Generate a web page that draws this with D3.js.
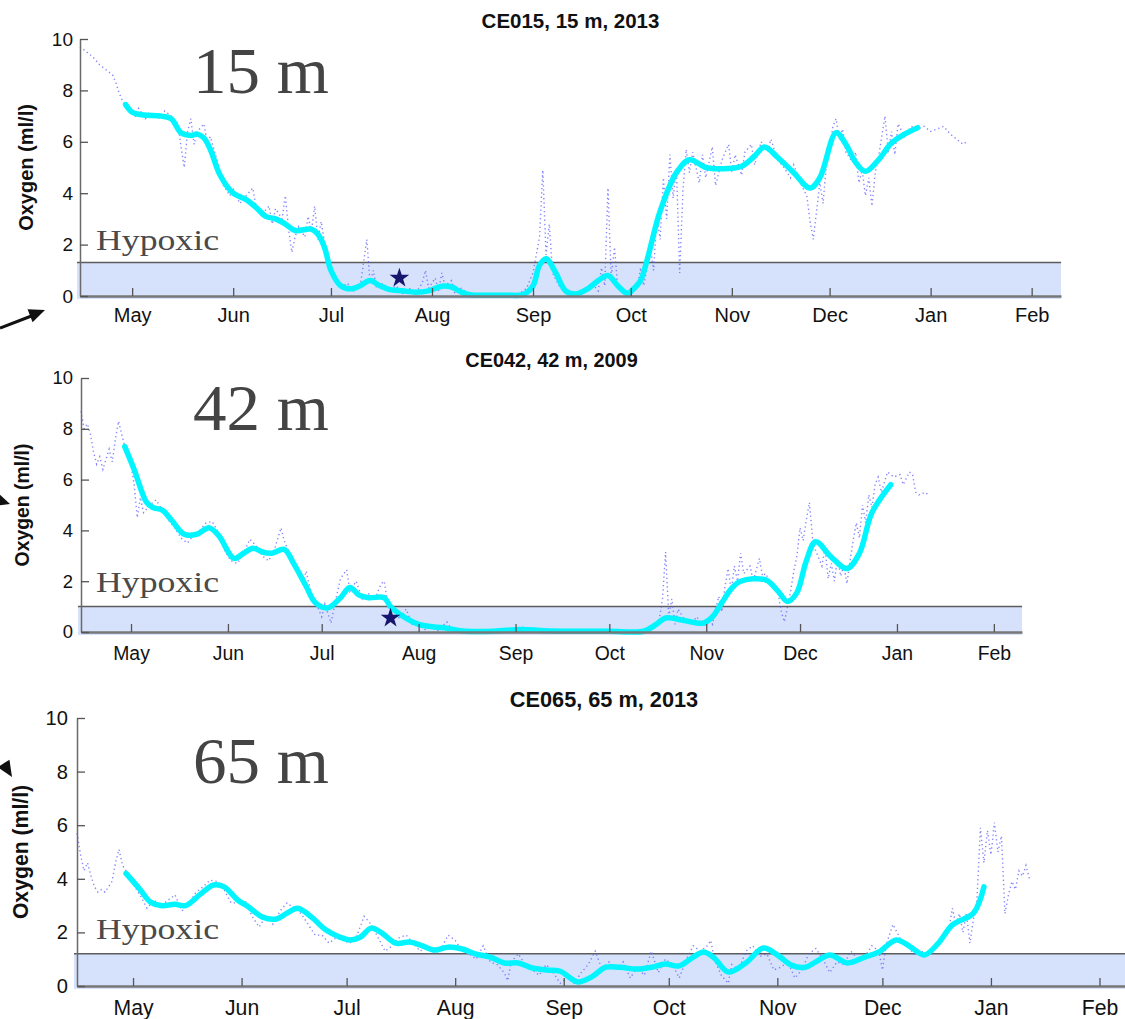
<!DOCTYPE html>
<html>
<head>
<meta charset="utf-8">
<script src="https://cdn.jsdelivr.net/npm/d3@7"></script>
<style>
  html, body { margin: 0; padding: 0; background: #fff; }
  svg { display: block; }
</style>
</head>
<body>
<svg id="fig" width="1125" height="1019"></svg>
<script>
// ---- Mooring oxygen records (ml/l); dates as "MM-DD", Jan/Feb fall in the following year ----

const panelTitles = ["CE015, 15 m, 2013", "CE042, 42 m, 2009", "CE065, 65 m, 2013"];
const depthLabels = ["15 m", "42 m", "65 m"];
const deploymentYears = [2013, 2009, 2013];
const hypoxicThresholds = [1.3, 1.0, 1.2];
const monthTicks = ["May", "Jun", "Jul", "Aug", "Sep", "Oct", "Nov", "Dec", "Jan", "Feb"];
const oxygenTicks = [0, 2, 4, 6, 8, 10];

// CE015 (15 m, 2013)
const ce015Raw = [
  ["04-15",9.7],["04-17",9.5],["04-19",9.3],["04-21",9.0],["04-23",8.8],["04-25",8.6],["04-26",8.3],["04-27",7.9],
  ["04-28",7.6],["04-29",7.4],["04-30",7.2],["05-02",7.0],["05-03",7.3],["05-05",6.9],["05-07",7.1],["05-09",6.9],
  ["05-11",7.2],["05-13",7.0],["05-15",6.7],["05-16",5.8],["05-17",5.0],["05-18",6.4],["05-19",6.9],["05-20",5.9],
  ["05-21",6.4],["05-23",6.7],["05-24",6.0],["05-25",6.2],["05-27",5.3],["05-29",4.3],["05-31",3.9],["06-01",4.2],
  ["06-03",3.6],["06-05",3.9],["06-07",4.2],["06-08",3.5],["06-10",3.2],["06-12",3.5],["06-13",2.8],["06-14",3.4],
  ["06-16",3.0],["06-17",3.9],["06-18",2.6],["06-19",1.7],["06-20",2.3],["06-21",2.7],["06-23",2.3],["06-24",3.1],
  ["06-25",2.5],["06-26",3.5],["06-27",2.2],["06-28",2.9],["06-29",2.1],["07-01",1.1],["07-02",0.6],["07-04",0.3],
  ["07-06",0.5],["07-08",0.2],["07-10",0.4],["07-11",1.3],["07-12",2.2],["07-13",0.5],["07-14",1.0],["07-15",0.3],
  ["07-17",0.5],["07-19",0.2],["07-21",0.4],["07-23",0.1],["07-25",0.3],["07-27",0.1],["07-29",0.5],["07-30",1.0],
  ["07-31",0.3],["08-02",0.7],["08-03",0.2],["08-04",0.9],["08-05",0.4],["08-07",0.6],["08-08",0.1],["08-10",0.3],
  ["08-13",0.0],["08-16",0.05],["08-20",0.0],["08-24",0.05],["08-28",0.1],["08-30",0.3],["09-01",0.9],["09-03",2.3],
  ["09-04",4.9],["09-05",1.6],["09-06",2.8],["09-07",0.9],["09-09",0.4],["09-11",0.1],["09-14",0.0],["09-17",0.2],
  ["09-19",0.5],["09-21",0.2],["09-22",1.1],["09-23",0.4],["09-24",4.2],["09-25",0.7],["09-26",1.9],["09-27",0.3],
  ["09-29",0.1],["10-01",0.1],["10-03",0.3],["10-04",1.1],["10-05",0.4],["10-07",1.9],["10-08",1.0],["10-09",3.1],
  ["10-10",2.2],["10-11",4.6],["10-12",3.0],["10-13",5.5],["10-14",3.8],["10-15",5.0],["10-16",0.9],["10-17",4.1],
  ["10-18",5.7],["10-19",4.8],["10-20",5.6],["10-22",4.4],["10-23",5.5],["10-24",4.6],["10-26",5.8],["10-27",4.3],
  ["10-29",5.3],["10-31",5.9],["11-01",4.8],["11-02",5.5],["11-04",4.7],["11-05",5.6],["11-07",5.9],["11-08",5.1],
  ["11-10",6.0],["11-12",5.6],["11-13",6.1],["11-15",5.3],["11-17",5.0],["11-19",4.6],["11-20",5.1],["11-22",4.4],
  ["11-24",3.9],["11-25",2.9],["11-26",2.2],["11-27",3.3],["11-28",4.4],["11-29",3.6],["11-30",5.1],["12-01",5.6],
  ["12-02",6.6],["12-03",6.9],["12-04",6.1],["12-05",6.5],["12-06",5.6],["12-08",5.2],["12-09",5.6],["12-10",4.4],
  ["12-11",4.9],["12-12",3.9],["12-13",4.6],["12-14",3.5],["12-15",4.8],["12-16",5.4],["12-17",6.2],["12-18",7.0],
  ["12-19",5.6],["12-20",6.4],["12-21",5.5],["12-22",6.7],["12-24",6.2],["12-26",6.6],["12-28",6.5],["12-30",6.6],
  ["01-01",6.4],["01-03",6.5],["01-05",6.6],["01-07",6.3],["01-09",6.1],["01-11",5.9],["01-12",6.0]
];
const ce015Smooth = [
  ["04-29",7.45],["05-01",7.15],["05-04",7.05],["05-10",7.0],["05-13",6.9],["05-16",6.35],["05-19",6.25],["05-21",6.3],
  ["05-23",6.15],["05-25",5.7],["05-28",4.7],["06-01",4.0],["06-05",3.75],["06-08",3.45],["06-11",3.1],["06-14",3.0],
  ["06-17",2.8],["06-20",2.55],["06-25",2.6],["06-27",2.4],["06-29",1.9],["07-01",1.0],["07-04",0.4],["07-07",0.28],
  ["07-10",0.4],["07-13",0.6],["07-16",0.4],["07-19",0.25],["07-23",0.2],["07-27",0.15],["07-31",0.2],["08-04",0.38],
  ["08-07",0.35],["08-10",0.15],["08-13",0.04],["08-18",0.03],["08-24",0.03],["08-29",0.06],["09-01",0.4],["09-03",1.2],
  ["09-05",1.45],["09-08",0.9],["09-11",0.2],["09-14",0.08],["09-18",0.3],["09-21",0.6],["09-24",0.8],["09-27",0.4],
  ["09-30",0.1],["10-02",0.3],["10-04",0.6],["10-06",1.4],["10-10",3.3],["10-15",4.8],["10-19",5.3],["10-24",5.0],
  ["10-29",4.95],["11-04",5.05],["11-08",5.45],["11-11",5.8],["11-15",5.4],["11-20",4.8],["11-25",4.2],["11-28",4.6],
  ["12-03",6.35],["12-06",5.9],["12-09",5.2],["12-12",4.85],["12-16",5.3],["12-20",5.95],["12-24",6.3],["12-28",6.55]
];
const ce015Star = ["07-22", 0.7];

// CE042 (42 m, 2009)
const ce042Raw = [
  ["04-15",8.7],["04-16",8.0],["04-17",8.2],["04-18",7.8],["04-19",7.1],["04-20",6.6],["04-21",6.9],["04-22",6.4],
  ["04-23",6.8],["04-24",7.2],["04-25",6.7],["04-26",7.6],["04-27",8.3],["04-28",7.8],["04-29",7.3],["05-01",6.6],
  ["05-02",5.8],["05-03",4.5],["05-04",5.3],["05-05",4.7],["05-07",5.0],["05-09",5.2],["05-11",4.8],["05-13",4.4],
  ["05-15",4.1],["05-17",3.7],["05-19",3.5],["05-21",3.8],["05-23",4.0],["05-25",4.3],["05-27",4.35],["05-29",3.9],
  ["05-31",3.2],["06-02",2.8],["06-04",2.7],["06-06",3.1],["06-08",3.65],["06-10",3.4],["06-12",3.0],["06-14",2.8],
  ["06-16",3.3],["06-18",4.1],["06-19",3.6],["06-21",3.0],["06-23",2.5],["06-25",1.9],["06-26",2.4],["06-28",1.3],
  ["06-30",0.9],["07-01",0.6],["07-02",1.1],["07-04",0.35],["07-05",1.0],["07-07",2.1],["07-09",2.45],["07-10",1.6],
  ["07-12",2.0],["07-14",1.3],["07-16",1.5],["07-18",1.3],["07-20",1.9],["07-21",2.0],["07-22",1.2],["07-24",0.9],
  ["07-26",0.5],["07-28",0.9],["07-30",0.3],["08-01",0.4],["08-03",0.1],["08-05",0.3],["08-07",0.05],["08-10",0.4],
  ["08-12",0.0],["08-16",0.0],["08-20",0.05],["08-25",0.0],["08-30",0.1],["09-03",0.2],["09-07",0.0],["09-12",0.1],
  ["09-17",0.0],["09-22",0.0],["09-27",0.05],["10-02",0.0],["10-07",0.0],["10-12",0.05],["10-15",0.2],["10-17",0.5],
  ["10-18",1.3],["10-19",3.15],["10-20",0.6],["10-21",1.3],["10-22",0.3],["10-23",0.9],["10-25",0.5],["10-27",0.3],
  ["10-29",0.6],["10-31",0.2],["11-02",0.5],["11-03",0.3],["11-04",0.9],["11-05",1.4],["11-06",0.8],["11-07",1.8],
  ["11-08",2.5],["11-09",1.6],["11-10",2.6],["11-11",2.0],["11-12",3.1],["11-13",2.3],["11-15",2.6],["11-16",2.0],
  ["11-18",2.9],["11-19",2.2],["11-20",2.3],["11-22",1.8],["11-24",1.5],["11-25",0.8],["11-26",0.4],["11-27",1.0],
  ["11-28",1.6],["11-29",2.4],["11-30",3.0],["12-01",4.1],["12-02",3.6],["12-03",4.4],["12-04",5.1],["12-05",3.7],
  ["12-06",3.2],["12-08",2.6],["12-09",3.3],["12-10",2.1],["12-11",2.7],["12-12",2.0],["12-13",2.9],["12-14",2.2],
  ["12-15",2.6],["12-16",1.9],["12-17",2.8],["12-18",3.6],["12-19",4.3],["12-20",3.7],["12-21",5.0],["12-22",4.3],
  ["12-23",5.4],["12-24",4.9],["12-25",5.8],["12-26",6.1],["12-27",5.5],["12-29",6.3],["12-31",6.1],["01-02",6.2],
  ["01-03",5.8],["01-05",6.3],["01-06",6.2],["01-07",5.5],["01-08",5.4],["01-10",5.5],["01-11",5.4]
];
const ce042Smooth = [
  ["04-29",7.3],["05-02",6.4],["05-06",5.1],["05-08",4.9],["05-11",4.8],["05-14",4.4],["05-18",3.85],["05-22",3.85],
  ["05-26",4.1],["05-29",3.8],["06-03",2.9],["06-06",3.1],["06-09",3.3],["06-12",3.15],["06-15",3.1],["06-19",3.25],
  ["06-22",2.7],["06-26",1.8],["06-29",1.15],["07-03",0.95],["07-07",1.35],["07-10",1.75],["07-13",1.45],["07-16",1.35],
  ["07-21",1.35],["07-23",1.0],["07-26",0.7],["08-01",0.3],["08-06",0.2],["08-10",0.15],["08-15",0.04],["08-25",0.03],
  ["09-03",0.1],["09-10",0.05],["09-20",0.03],["10-01",0.03],["10-12",0.03],["10-16",0.3],["10-19",0.55],["10-25",0.45],
  ["10-31",0.35],["11-03",0.6],["11-06",1.15],["11-09",1.7],["11-12",2.0],["11-20",2.05],["11-24",1.6],["11-27",1.2],
  ["11-30",1.55],["12-03",2.8],["12-06",3.55],["12-11",2.95],["12-16",2.5],["12-20",3.1],["12-24",4.7],["12-30",5.8]
];
const ce042Star = ["07-23", 0.55];

// CE065 (65 m, 2013)
const ce065Raw = [
  ["04-15",5.7],["04-16",4.9],["04-17",4.3],["04-18",4.6],["04-19",4.1],["04-20",3.7],["04-21",3.5],["04-22",3.6],
  ["04-23",3.5],["04-24",3.7],["04-25",3.9],["04-26",4.6],["04-27",5.1],["04-28",4.5],["04-29",4.3],["05-01",3.8],
  ["05-03",3.4],["05-05",2.9],["05-07",3.2],["05-09",3.0],["05-11",3.2],["05-13",3.4],["05-15",2.8],["05-17",3.1],
  ["05-19",3.5],["05-21",3.7],["05-23",3.95],["05-25",3.9],["05-27",3.6],["05-29",3.1],["05-31",3.1],["06-02",3.2],
  ["06-04",2.6],["06-06",2.2],["06-08",2.6],["06-10",2.3],["06-12",2.8],["06-14",3.1],["06-16",2.9],["06-18",2.7],
  ["06-20",2.3],["06-22",1.9],["06-24",1.9],["06-26",1.6],["06-28",1.8],["06-30",1.7],["07-02",1.6],["07-04",1.9],
  ["07-06",2.6],["07-08",2.3],["07-10",1.8],["07-12",1.3],["07-14",1.5],["07-16",1.8],["07-18",1.9],["07-20",1.6],
  ["07-22",1.3],["07-24",1.5],["07-26",1.2],["07-28",1.4],["07-30",1.9],["08-01",1.7],["08-03",1.3],["08-05",1.2],
  ["08-07",1.0],["08-09",1.5],["08-11",0.9],["08-13",0.8],["08-15",0.5],["08-16",0.2],["08-17",0.9],["08-19",1.2],
  ["08-21",0.8],["08-23",0.6],["08-25",0.4],["08-27",0.8],["08-29",0.5],["08-31",0.1],["09-02",0.3],["09-04",0.1],
  ["09-06",0.5],["09-08",0.8],["09-10",1.3],["09-12",0.6],["09-14",0.9],["09-16",0.6],["09-18",0.9],["09-20",0.3],
  ["09-22",0.7],["09-24",0.4],["09-26",1.3],["09-28",0.5],["09-30",1.0],["10-02",0.8],["10-04",0.3],["10-06",1.0],
  ["10-08",1.5],["10-10",1.3],["10-12",1.5],["10-13",1.7],["10-14",1.0],["10-16",0.4],["10-18",0.1],["10-19",0.8],
  ["10-21",0.6],["10-23",1.3],["10-25",1.5],["10-27",1.1],["10-29",1.2],["10-31",0.6],["11-02",0.7],["11-04",0.9],
  ["11-06",0.3],["11-08",0.6],["11-10",1.2],["11-12",1.4],["11-14",1.0],["11-16",0.5],["11-18",0.9],["11-20",0.8],
  ["11-22",1.3],["11-24",1.0],["11-26",1.1],["11-28",1.5],["11-30",1.3],["12-01",0.6],["12-02",1.5],["12-04",2.3],
  ["12-06",1.8],["12-08",1.5],["12-10",1.2],["12-12",1.3],["12-14",1.2],["12-16",1.4],["12-18",1.8],["12-20",2.1],
  ["12-21",2.9],["12-22",2.3],["12-23",2.7],["12-24",2.0],["12-25",2.7],["12-26",1.6],["12-27",2.5],["12-28",3.2],
  ["12-29",5.9],["12-30",4.6],["12-31",5.8],["01-01",4.9],["01-02",6.1],["01-03",5.0],["01-04",5.6],["01-05",2.7],
  ["01-06",3.4],["01-07",3.9],["01-08",3.6],["01-09",4.3],["01-10",4.1],["01-11",4.5],["01-12",4.0]
];
const ce065Smooth = [
  ["04-29",4.2],["05-03",3.6],["05-06",3.13],["05-09",3.0],["05-13",3.05],["05-16",3.0],["05-20",3.4],["05-24",3.77],
  ["05-27",3.7],["05-31",3.2],["06-03",2.95],["06-07",2.57],["06-11",2.5],["06-14",2.72],["06-17",2.9],["06-21",2.57],
  ["06-25",2.1],["06-29",1.83],["07-02",1.72],["07-05",1.83],["07-08",2.16],["07-11",1.98],["07-15",1.6],["07-19",1.64],
  ["07-22",1.53],["07-26",1.34],["07-30",1.45],["08-03",1.38],["08-07",1.19],["08-11",1.08],["08-15",0.86],["08-19",0.86],
  ["08-23",0.67],["08-27",0.6],["08-31",0.55],["09-05",0.15],["09-09",0.34],["09-13",0.7],["09-17",0.7],["09-22",0.63],
  ["09-26",0.7],["09-30",0.82],["10-04",0.75],["10-08",1.08],["10-11",1.27],["10-14",1.04],["10-18",0.52],["10-23",0.86],
  ["10-28",1.42],["11-01",1.16],["11-05",0.78],["11-09",0.7],["11-12",0.9],["11-16",1.16],["11-21",0.86],["11-26",1.08],
  ["11-30",1.27],["12-05",1.72],["12-09",1.46],["12-13",1.16],["12-17",1.6],["12-21",2.28],["12-27",2.72],["12-30",3.7]
];

const rawSeries = [ce015Raw, ce042Raw, ce065Raw];
const smoothSeries = [ce015Smooth, ce042Smooth, ce065Smooth];
const starMarkers = [ce015Star, ce042Star, null];

// ---- Page layout: each panel has its own pixel box and text scale ----
const layouts = [
  { x0: 80, x1: 1061, yTop: 39,  yBot: 296, s: 1.00, yLabelX: 33, tickGap: 7, monthGap: 12, depthBase: 93,  hypBase: 250 },
  { x0: 81, x1: 1022, yTop: 378, yBot: 632, s: 0.97, yLabelX: 29, tickGap: 8, monthGap: 14, depthBase: 430, hypBase: 592 },
  { x0: 77, x1: 1131, yTop: 718, yBot: 986, s: 1.06, yLabelX: 28, tickGap: 9, monthGap: 14, depthBase: 783, hypBase: 939 }
];

const SANS = "'Liberation Sans', Arial, Helvetica, sans-serif";
const SERIF = "'Liberation Serif', 'Times New Roman', serif";

function toDate(md, year) {
  const [m, d] = md.split("-").map(Number);
  return new Date(m >= 4 ? year : year + 1, m - 1, d);
}

const svg = d3.select("#fig");

layouts.forEach((L, i) => {
  const year = deploymentYears[i];
  const x = d3.scaleTime()
    .domain([new Date(year, 3, 15), new Date(year + 1, 1, 10)])
    .range([L.x0, L.x1]);
  const y = d3.scaleLinear().domain([0, 10]).range([L.yBot, L.yTop]);
  const g = svg.append("g").attr("class", "panel");

  // hypoxic band
  const thr = hypoxicThresholds[i];
  g.append("rect")
    .attr("x", L.x0 - 3).attr("y", y(thr))
    .attr("width", L.x1 - L.x0 + 3).attr("height", L.yBot + 3 - y(thr))
    .attr("fill", "#d6e2fb");
  g.append("line")
    .attr("x1", L.x0 - 3).attr("x2", L.x1)
    .attr("y1", y(thr)).attr("y2", y(thr))
    .attr("stroke", "#5c5c5c").attr("stroke-width", 1.5);

  // raw record, dotted
  const raw = rawSeries[i].map(([md, v]) => ({ date: toDate(md, year), v }));
  g.append("path")
    .datum(raw)
    .attr("fill", "none")
    .attr("stroke", "#5c5cff")
    .attr("stroke-width", 1.4)
    .attr("stroke-dasharray", "1.3 3")
    .attr("opacity", 0.75)
    .attr("d", d3.line().x(d => x(d.date)).y(d => y(d.v)));

  // low-passed record
  const smooth = smoothSeries[i].map(([md, v]) => ({ date: toDate(md, year), v }));
  g.append("path")
    .datum(smooth)
    .attr("fill", "none")
    .attr("stroke", "#00f5ff")
    .attr("stroke-width", 5.5)
    .attr("stroke-linecap", "round")
    .attr("stroke-linejoin", "round")
    .attr("d", d3.line().curve(d3.curveCatmullRom.alpha(0.5)).x(d => x(d.date)).y(d => y(d.v)));

  // star marker
  const star = starMarkers[i];
  if (star) {
    g.append("path")
      .attr("d", d3.symbol(d3.symbolStar, 120)())
      .attr("transform", `translate(${x(toDate(star[0], year))},${y(star[1])})`)
      .attr("fill", "#16166e");
  }

  // axes
  const monthDates = d3.timeMonth.range(new Date(year, 4, 1), new Date(year + 1, 1, 2));
  const xAxis = d3.axisBottom(x)
    .tickValues(monthDates)
    .tickFormat((d, k) => monthTicks[k])
    .tickSizeInner(-8).tickSizeOuter(0)
    .tickPadding(L.monthGap);
  const gx = g.append("g").attr("transform", `translate(0,${L.yBot})`).call(xAxis);
  gx.select(".domain").attr("stroke", "#777").attr("stroke-width", 2.5);
  gx.selectAll(".tick line").attr("stroke", "#555").attr("stroke-width", 1.3);
  gx.selectAll("text").attr("font-family", SANS).attr("font-size", 20 * L.s).attr("fill", "#111");

  const yAxis = d3.axisLeft(y)
    .tickValues(oxygenTicks)
    .tickSizeInner(-8).tickSizeOuter(0)
    .tickPadding(L.tickGap);
  const gy = g.append("g").attr("transform", `translate(${L.x0},0)`).call(yAxis);
  gy.select(".domain").attr("stroke", "#6a6a6a").attr("stroke-width", 1.5);
  gy.selectAll(".tick line").attr("stroke", "#555").attr("stroke-width", 1.3);
  gy.selectAll("text").attr("font-family", SANS).attr("font-size", 19 * L.s).attr("fill", "#111");

  // title
  g.append("text")
    .attr("x", (L.x0 + L.x1) / 2).attr("y", L.yTop - 11)
    .attr("text-anchor", "middle")
    .attr("font-family", SANS).attr("font-weight", "bold")
    .attr("font-size", 20.5 * L.s).attr("fill", "#111")
    .text(panelTitles[i]);

  // y-axis label
  g.append("text")
    .attr("transform", `translate(${L.yLabelX},${(L.yTop + L.yBot) / 2}) rotate(-90)`)
    .attr("text-anchor", "middle")
    .attr("font-family", SANS).attr("font-weight", "bold")
    .attr("font-size", 20 * L.s).attr("fill", "#111")
    .text("Oxygen (ml/l)");

  // depth label
  g.append("text")
    .attr("x", 193).attr("y", L.depthBase)
    .attr("font-family", SERIF).attr("font-size", 66)
    .attr("textLength", 136).attr("lengthAdjust", "spacingAndGlyphs")
    .attr("fill", "#444")
    .text(depthLabels[i]);

  // band label
  g.append("text")
    .attr("x", 96).attr("y", L.hypBase)
    .attr("font-family", SERIF).attr("font-size", 30)
    .attr("textLength", 123).attr("lengthAdjust", "spacingAndGlyphs")
    .attr("fill", "#4a4a4a")
    .text("Hypoxic");
});

// pointer arrows at the left margin
function arrowHead(tipX, tipY, angleDeg, len, half) {
  const a = angleDeg * Math.PI / 180;
  const bx = tipX - len * Math.cos(a), by = tipY - len * Math.sin(a);
  const px = -Math.sin(a) * half, py = Math.cos(a) * half;
  return `M${tipX},${tipY}L${bx + px},${by + py}L${bx - px},${by - py}Z`;
}
svg.append("line").attr("x1", 0).attr("y1", 328).attr("x2", 34).attr("y2", 315)
  .attr("stroke", "#111").attr("stroke-width", 3);
svg.append("path").attr("d", arrowHead(45, 310, -21, 16, 7)).attr("fill", "#111");
svg.append("path").attr("d", arrowHead(10, 504, 18, 13, 6)).attr("fill", "#111");
svg.append("path").attr("d", arrowHead(12, 777, 58, 16, 7)).attr("fill", "#111");
</script>
</body>
</html>
